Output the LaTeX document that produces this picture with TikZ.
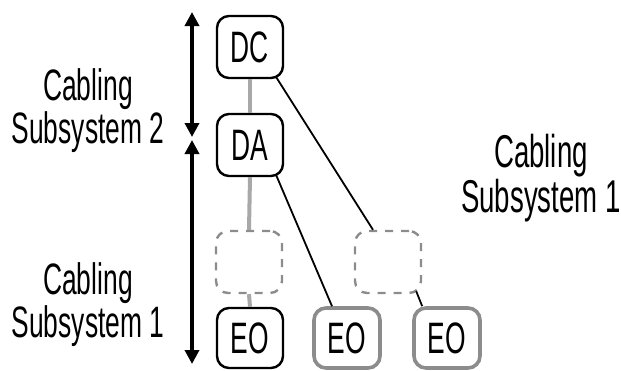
\documentclass[tikz,border=0pt]{standalone}
\usepackage{fontspec}
\setmainfont{Liberation Sans}[FakeStretch=0.6]
\usetikzlibrary{arrows.meta,positioning}
\definecolor{cableGray}{HTML}{A8A8A8}
\definecolor{boxGray}{HTML}{8C8C8C}
\tikzset{
  >={Triangle[length=7pt,width=7pt]},
  every picture/.append style={font=\fontsize{22}{20}\selectfont},
  unit/.style={rectangle,rounded corners=6pt,draw=black,line width=1.2pt,
    minimum width=33pt,minimum height=31pt,inner sep=0pt},
  unitgray/.style={unit,draw=boxGray,line width=1.8pt},
  spare/.style={unit,draw=boxGray,dash pattern=on 4pt off 4pt},
  trunk/.style={draw=cableGray,line width=2pt},
  link/.style={draw=black,line width=0.9pt},
  span/.style={<->,line width=1.8pt},
  sublabel/.style={align=center,inner sep=0pt,anchor=north},
}
\begin{document}
\begin{tikzpicture}[x=0.5pt,y=-0.5pt]
  \useasboundingbox (0,0) rectangle (621,370);

  % distributors and outlets
  \node[unit] (dc) at (250,47) {DC};
  \node[unit] (da) at (250,145) {DA};
  \node[spare] (spL) at (249,262) {};
  \node[spare] (spR) at (388,262) {};
  \node[unit, minimum height=30pt] (eo1) at (250,338) {EO};
  \node[unitgray, minimum height=30pt] (eo2) at (347,338) {EO};
  \node[unitgray, minimum height=30pt] (eo3) at (447,338) {EO};

  % cabling
  \draw[trunk] (dc.south) -- (da.north);
  \draw[trunk] (da.south) -- (spL.north);
  \draw[trunk] (spL.south) -- (eo1.north);
  \draw[link] ([xshift=-4pt,yshift=1pt]dc.south east) -- ([xshift=-7.5pt]spR.north);
  \draw[link] ([xshift=-4pt,yshift=1pt]da.south east) -- ([xshift=-7.5pt]eo2.north);
  \draw[link] ([xshift=-3pt,yshift=1.5pt]spR.south east) -- ([xshift=5pt]eo3.north west);

  % subsystem spans
  \coordinate (s2top) at (192,12);
  \coordinate (s2bot) at (192,137);
  \coordinate (s1top) at (192,140);
  \coordinate (s1bot) at (192,364);
  \draw[span] (s2top) -- (s2bot);
  \draw[span] (s1top) -- (s1bot);

  \node[sublabel] (lab2) at (88,68) {Cabling\\Subsystem 2};
  \node[sublabel] (lab1) at (88,262) {Cabling\\Subsystem 1};
  \node[sublabel, font=\fontsize{23}{22.5}\selectfont] (labR) at (541,134) {Cabling\\Subsystem 1};
\end{tikzpicture}
\end{document}
